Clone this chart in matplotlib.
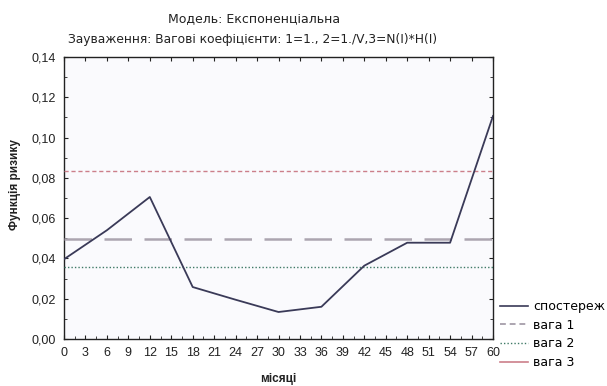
import matplotlib
matplotlib.use("Agg")
import matplotlib.pyplot as plt
from matplotlib.ticker import MultipleLocator, FuncFormatter
from matplotlib.lines import Line2D

plt.rcParams['font.family'] = ['Liberation Sans', 'DejaVu Sans']

# Observed hazard by month
months = [0, 6, 12, 18, 24, 30, 36, 42, 48, 54, 60]
observed = [0.0396, 0.054, 0.0705, 0.0258, 0.0195, 0.0134, 0.016, 0.0364, 0.0478, 0.0478, 0.1107]

# Constant hazard estimates under the three weighting schemes
weight1 = 0.0495
weight2 = 0.0359
weight3 = 0.0836

legend_labels = ["спостереж", "вага 1", "вага 2", "вага 3"]

OBS_C = "#3a3a58"
W1_C = "#aca5b0"
W2_C = "#3f7a66"
W3_C = "#cc7f8a"

fig = plt.figure(figsize=(6.07, 3.86), dpi=100)
ax = fig.add_axes([64 / 607, 1 - 339 / 386, (493 - 64) / 607, (339 - 57) / 386])
ax.set_facecolor("#fafafd")

ax.plot(months, observed, color=OBS_C, lw=1.3, zorder=4)
ax.axhline(weight1, color=W1_C, lw=1.8, ls=(0, (11, 5)), zorder=3)
ax.axhline(weight2, color=W2_C, lw=1.0, ls=(0, (1, 1.5)), zorder=3)
ax.axhline(weight3, color=W3_C, lw=1.0, ls=(0, (3, 2)), zorder=3)

ax.set_xlim(0, 60)
ax.set_ylim(0, 0.14)
ax.xaxis.set_major_locator(MultipleLocator(3))
ax.xaxis.set_minor_locator(MultipleLocator(1.5))
ax.yaxis.set_major_locator(MultipleLocator(0.02))
ax.yaxis.set_minor_locator(MultipleLocator(0.01))
ax.yaxis.set_major_formatter(FuncFormatter(lambda v, p: f"{v:.2f}".replace(".", ",")))
ax.tick_params(which="both", direction="in", top=True, right=True, labelsize=9,
               colors="#222222")
ax.tick_params(which="major", length=3)
ax.tick_params(which="minor", length=2)
ax.tick_params(axis="x", which="minor", top=False)
ax.tick_params(axis="x", which="major", pad=6)
ax.tick_params(axis="y", which="major", pad=6)
for s in ax.spines.values():
    s.set_color("#222222")
    s.set_linewidth(1.0)

fig.text(15 / 607, 1 - 185 / 386, "Функція ризику", rotation=90, ha="center", va="center",
         fontsize=8.5, fontweight="bold", color="#222222")
fig.text(278 / 607, 1 - 379 / 386, "місяці", ha="center", va="center",
         fontsize=8.5, fontweight="bold", color="#222222")

fig.text(254 / 607, 1 - 19 / 386, "Модель: Експоненціальна", ha="center", va="center",
         fontsize=9, color="#222222", family="DejaVu Sans")
fig.text(253 / 607, 1 - 39 / 386, "Зауваження: Вагові коефіцієнти: 1=1., 2=1./V,3=N(I)*H(I)",
         ha="center", va="center", fontsize=8.8, color="#222222", family="DejaVu Sans")

handles = [
    Line2D([], [], color=OBS_C, lw=1.2),
    Line2D([], [], color=W1_C, lw=1.4, ls=(0, (3, 2))),
    Line2D([], [], color=W2_C, lw=1.0, ls=(0, (1, 1.5))),
    Line2D([], [], color=W3_C, lw=1.2),
]
fig.legend(handles, legend_labels, loc="upper left", bbox_to_anchor=(500 / 607, 1 - 300 / 386),
           frameon=False, prop={"family": "DejaVu Sans", "size": 9}, handlelength=2.2,
           handletextpad=0.45, labelspacing=0.45, borderaxespad=0, borderpad=0)

fig.savefig("out.png", dpi=100)
